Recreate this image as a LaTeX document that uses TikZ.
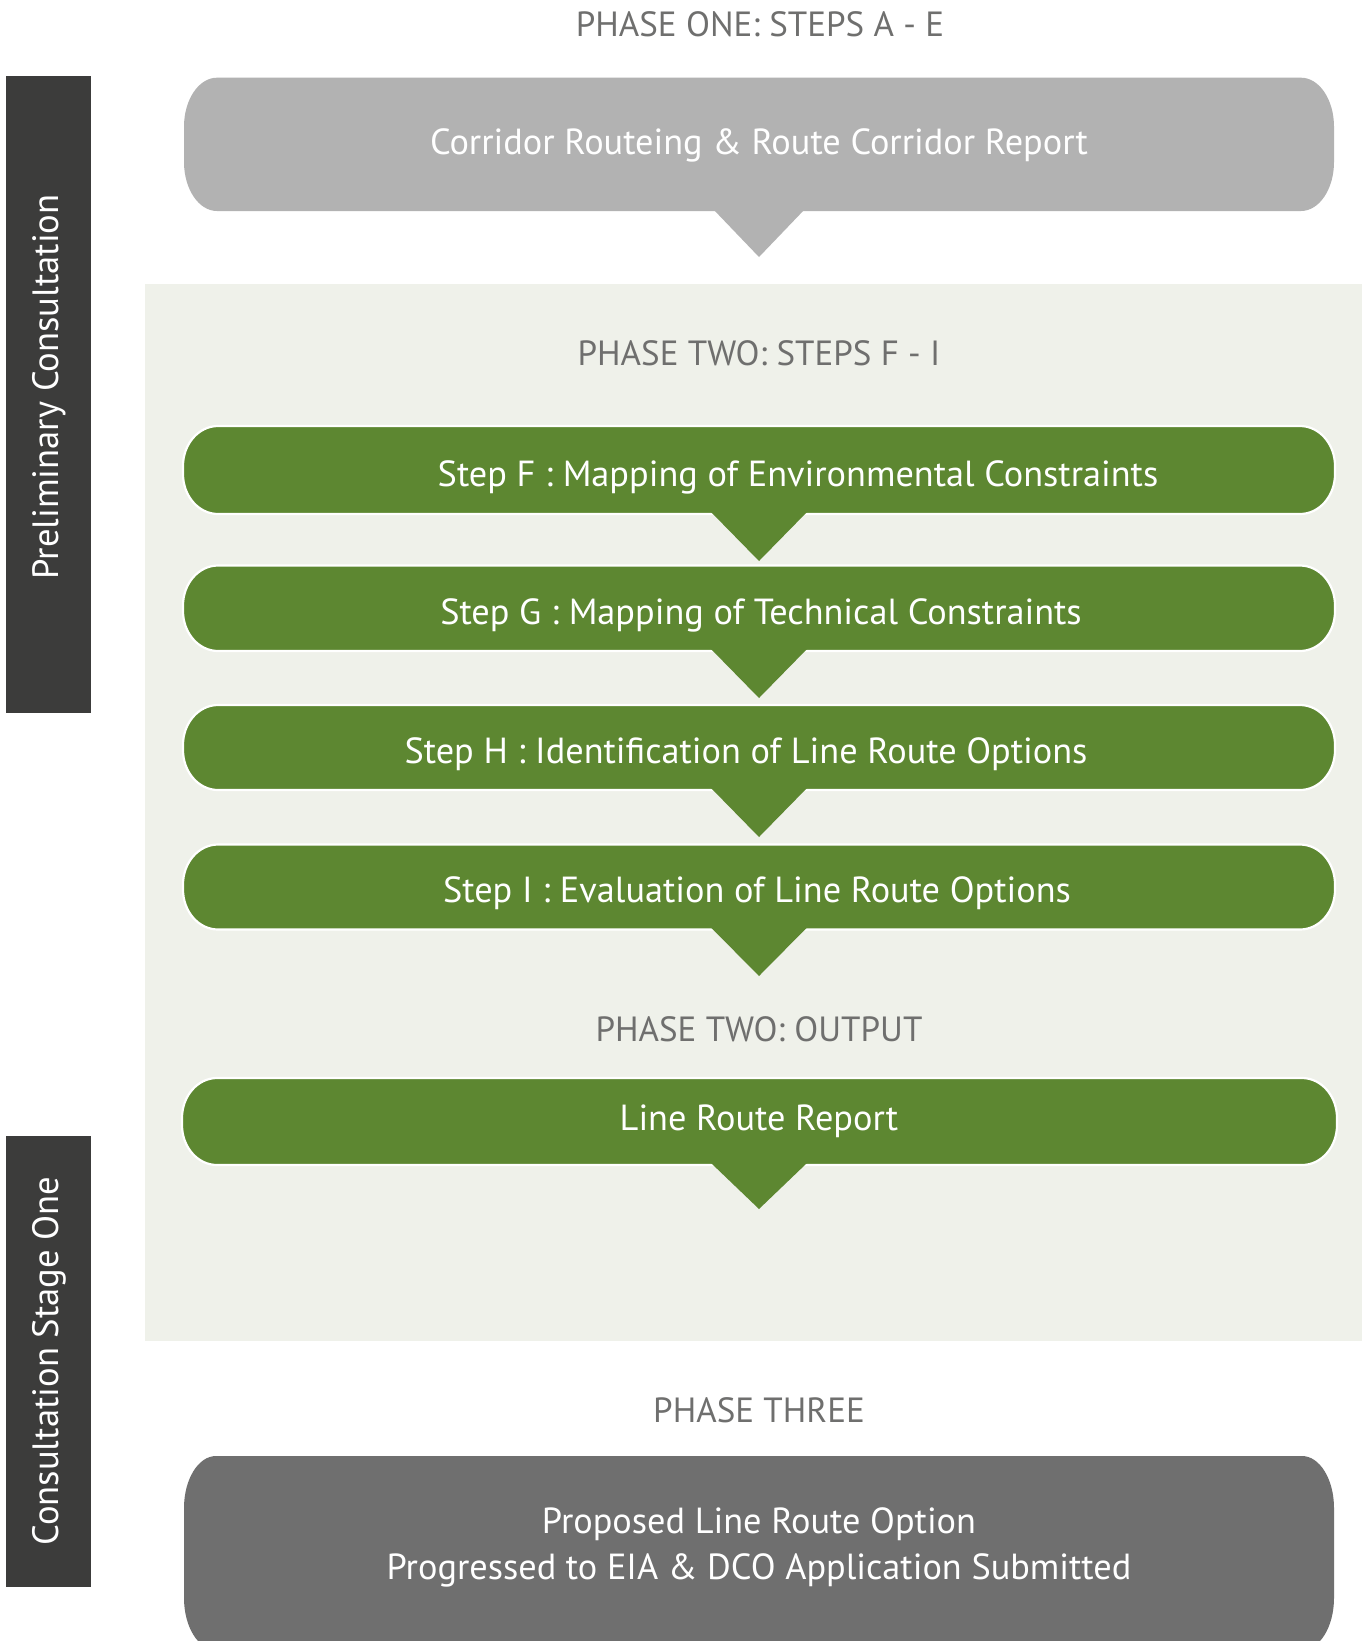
\documentclass[tikz,border=0pt]{standalone}
\usepackage{fontspec}
\setmainfont{PT Sans}
\definecolor{barcol}{HTML}{3C3C3B}
\definecolor{greybox}{HTML}{B2B2B2}
\definecolor{darkbox}{HTML}{6F6F6F}
\definecolor{stepgreen}{HTML}{5D8731}
\definecolor{panel}{HTML}{EFF1EA}
\definecolor{phasetxt}{HTML}{6F6F6E}
% #1 style, #2 x1, #3 top, #4 x2, #5 bottom, #6 rx, #7 ry
\newcommand\pillshape[7]{%
  \path[#1] (#2+#6,#3) -- (#4-#6,#3)
    arc[start angle=90,end angle=0,x radius=#6pt,y radius=#7pt]
    -- (#4,#5+#7)
    arc[start angle=0,end angle=-90,x radius=#6pt,y radius=#7pt]
    -- (#2+#6,#5)
    arc[start angle=270,end angle=180,x radius=#6pt,y radius=#7pt]
    -- (#2,#3-#7)
    arc[start angle=180,end angle=90,x radius=#6pt,y radius=#7pt]
    -- cycle;}
% pointer: #1 colour, #2 bottom y of box, #3 tip y
\newcommand\pointer[3]{%
  \fill[#1] (711,#2+2) -- (759,#3) -- (807,#2+2) -- cycle;}
\tikzset{
  phaselabel/.style={text=phasetxt, font=\fontsize{35}{42}\selectfont, inner sep=0pt, anchor=center},
  boxtext/.style={text=white, font=\fontsize{36.3}{44}\selectfont, inner sep=0pt, anchor=center},
  bartext/.style={text=white, font=\fontsize{36.6}{44}\selectfont, inner sep=0pt, rotate=90, anchor=center},
  greenfill/.style={fill=stepgreen, draw=white, line width=2.2pt},
}
\begin{document}
\begin{tikzpicture}[x=1pt,y=1pt]
\useasboundingbox (0,0) rectangle (1367,-1641);
\fill[white] (0,0) rectangle (1367,-1641);
% side bars
\fill[barcol] (6,-75.5) rectangle (91,-713);
\node[bartext] (prelim) at (49,-387) {Preliminary Consultation};
\fill[barcol] (6,-1136) rectangle (91,-1587);
\node[bartext] (stageone) at (49,-1361) {Consultation Stage One};
% phase one
\node[phaselabel] (p1) at (760,-24) {PHASE ONE: STEPS A - E};
\pillshape{fill=greybox}{184}{-77.7}{1334}{-211}{33}{49}
\fill[greybox] (713,-209) -- (759,-257) -- (805,-209) -- cycle;
\node[boxtext] (corridor) at (759,-145.5) {Corridor Routeing \& Route Corridor Report};
% phase two panel
\fill[panel] (144.5,-284) rectangle (1362,-1341);
\node[phaselabel] (p2) at (759,-353) {PHASE TWO: STEPS F - I};
% steps
\pillshape{greenfill}{183}{-426}{1335}{-514}{35}{40}
\pointer{stepgreen}{-514}{-561}
\node[boxtext] (stepF) at (798,-477) {Step F : Mapping of Environmental Constraints};
\pillshape{greenfill}{183}{-565.5}{1335}{-651}{35}{40}
\pointer{stepgreen}{-651}{-698}
\node[boxtext] (stepG) at (761,-615.5) {Step G : Mapping of Technical Constraints};
\pillshape{greenfill}{183}{-705}{1335}{-790}{35}{40}
\pointer{stepgreen}{-790}{-837}
\node[boxtext] (stepH) at (746,-754.5) {Step H : Identification of Line Route Options};
\pillshape{greenfill}{183}{-844.5}{1335}{-929.5}{35}{40}
\pointer{stepgreen}{-929.5}{-976}
\node[boxtext] (stepI) at (757,-893.5) {Step I : Evaluation of Line Route Options};
\node[phaselabel] (p2out) at (759,-1029) {PHASE TWO: OUTPUT};
\pillshape{greenfill}{182}{-1078}{1337}{-1165}{35}{40}
\pointer{stepgreen}{-1165}{-1209}
\node[boxtext] (lrr) at (759,-1121.5) {Line Route Report};
% phase three
\node[phaselabel] (p3) at (759,-1410) {PHASE THREE};
\pillshape{fill=darkbox}{184}{-1456}{1334}{-1650}{32}{52}
\node[boxtext, align=center, font=\fontsize{36.3}{46}\selectfont] (proposed) at (759,-1547.5) {Proposed Line Route Option\\Progressed to EIA \& DCO Application Submitted};
\end{tikzpicture}
\end{document}
